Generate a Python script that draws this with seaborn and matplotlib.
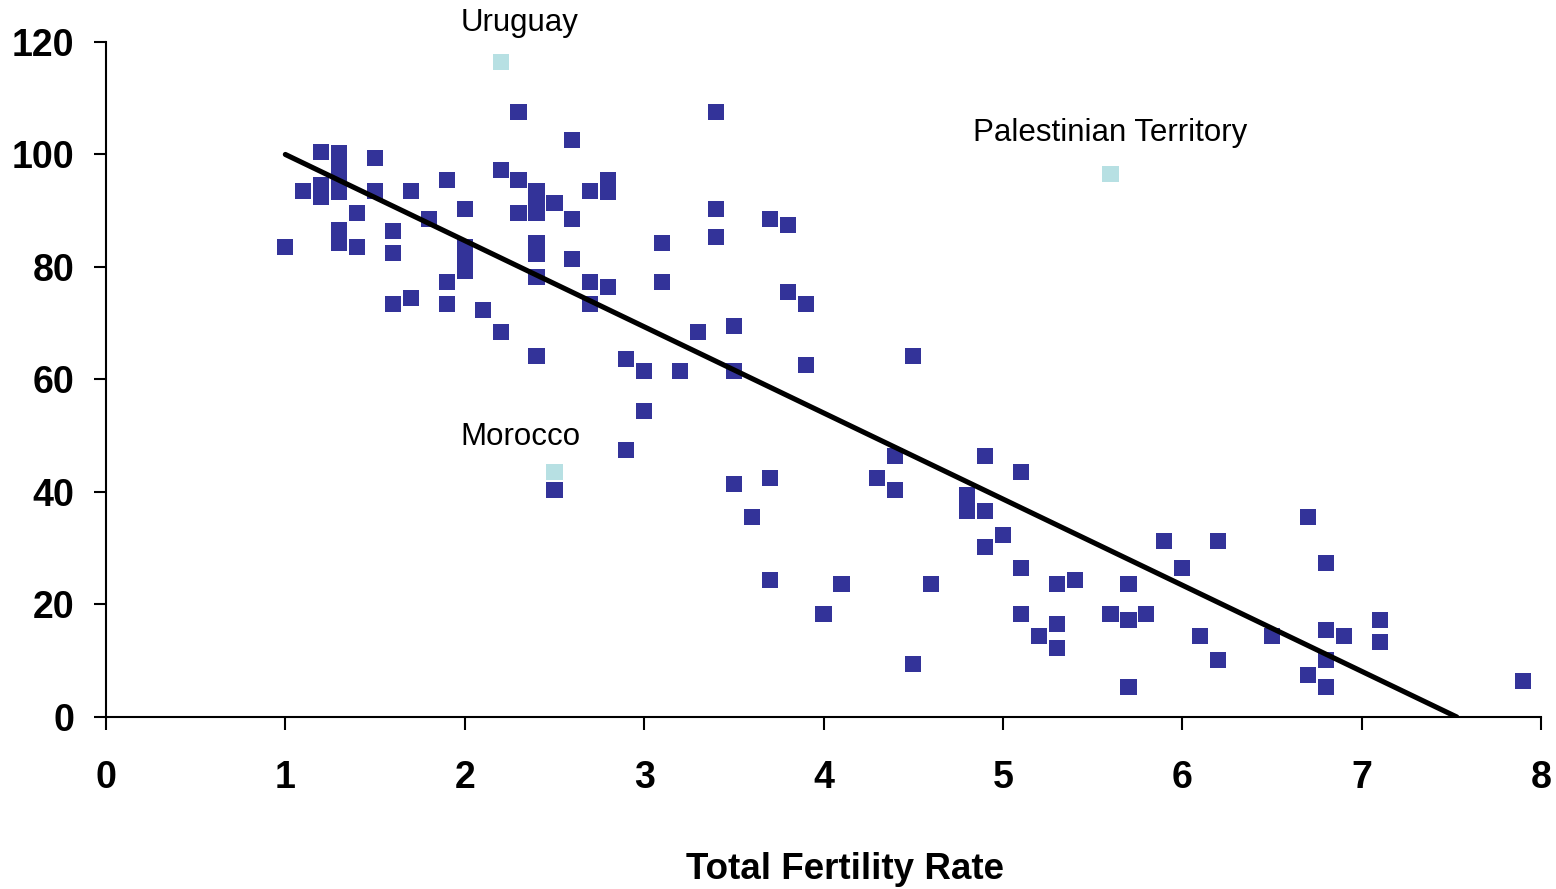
import numpy as np
import pandas as pd
import matplotlib
matplotlib.use("Agg")
import matplotlib.pyplot as plt
import seaborn as sns

# 数据准备 (fertility rate vs. value)
fertility = [1.0, 1.1, 1.2, 1.2, 1.2, 1.3, 1.3, 1.3, 1.3, 1.3, 1.3,
             1.4, 1.4, 1.5, 1.5, 1.6, 1.6, 1.6, 1.7, 1.7, 1.8,
             1.9, 1.9, 1.9, 2.0, 2.0, 2.0, 2.0, 2.1, 2.2, 2.2,
             2.3, 2.3, 2.3, 2.4, 2.4, 2.4, 2.4, 2.4, 2.4, 2.4,
             2.5, 2.5, 2.6, 2.6, 2.6, 2.7, 2.7, 2.7, 2.8, 2.8, 2.8,
             2.9, 2.9, 3.0, 3.0, 3.1, 3.1, 3.2, 3.3, 3.4, 3.4, 3.4,
             3.5, 3.5, 3.5, 3.6, 3.7, 3.7, 3.7, 3.8, 3.8, 3.9, 3.9,
             4.0, 4.1, 4.3, 4.4, 4.4, 4.5, 4.5, 4.6, 4.8, 4.8,
             4.9, 4.9, 4.9, 5.0, 5.1, 5.1, 5.1, 5.2, 5.3, 5.3, 5.3,
             5.4, 5.6, 5.7, 5.7, 5.7, 5.8, 5.9, 6.0, 6.1, 6.2, 6.2,
             6.5, 6.7, 6.7, 6.8, 6.8, 6.8, 6.8, 6.9, 7.1, 7.1, 7.9]
value = [83.6, 93.5, 100.4, 94.6, 92.4, 100.3, 98.0, 95.5, 93.3, 86.6, 84.3,
         89.6, 83.6, 99.4, 93.5, 86.4, 82.5, 73.4, 93.5, 74.5, 88.5,
         95.5, 77.3, 73.4, 90.3, 83.6, 81.4, 79.3, 72.4, 97.2, 68.4,
         107.6, 95.5, 89.6, 93.5, 92.0, 89.6, 84.3, 82.3, 78.2, 64.2,
         91.4, 40.4, 102.6, 88.5, 81.4, 93.5, 77.3, 73.4, 95.5, 93.3, 76.4,
         63.6, 47.5, 61.5, 54.4, 84.3, 77.3, 61.5, 68.4, 107.6, 90.3, 85.3,
         69.5, 61.5, 41.4, 35.6, 88.5, 42.5, 24.4, 87.5, 75.6, 73.4, 62.6,
         18.3, 23.6, 42.5, 46.4, 40.4, 64.2, 9.4, 23.6, 39.5, 36.6,
         46.4, 36.6, 30.2, 32.4, 43.6, 26.5, 18.3, 14.4, 23.6, 16.5, 12.3,
         24.4, 18.3, 23.6, 17.2, 5.3, 18.3, 31.3, 26.5, 14.4, 31.3, 10.1,
         14.4, 35.6, 7.5, 27.4, 15.5, 10.1, 5.3, 14.4, 17.2, 13.3, 6.4]

# highlighted countries
hl_names = ["Uruguay", "Palestinian Territory", "Morocco"]
hl_fertility = [2.2, 5.6, 2.5]
hl_value = [116.5, 96.5, 43.6]

# trend line as drawn in the chart (start / end)
trend_x = [1.0, 7.53]
trend_y = [100.0, 0.0]

df = pd.DataFrame({"fertility": fertility + hl_fertility,
                   "value": value + hl_value,
                   "group": ["other"] * len(fertility) + ["highlight"] * len(hl_names)})
trend = pd.DataFrame({"x": trend_x, "y": trend_y})

sns.set_style("white")
plt.rcParams["font.family"] = ["Liberation Sans", "DejaVu Sans"]
plt.rcParams["text.color"] = "black"

fig = plt.figure(figsize=(15.56, 8.89), dpi=100)
ax = fig.add_axes([0.0681, 0.1935, 0.9223, 0.7593])

sns.scatterplot(data=df, x="fertility", y="value", hue="group",
                palette={"other": "#333399", "highlight": "#B7E0E3"},
                marker="s", s=135, linewidth=0, legend=False, ax=ax, zorder=3)

sns.lineplot(data=trend, x="x", y="y", color="black", linewidth=3.7, ax=ax, zorder=4)

offsets = [(14, 28), (0, 29.5), (-24.5, 25)]
for name, fx, fy, off in zip(hl_names, hl_fertility, hl_value, offsets):
    ax.annotate(name, (fx, fy), xytext=off, textcoords="offset points",
                ha="center", va="center", fontsize=22.5, color="black")

ax.set_xlim(0, 8)
ax.set_ylim(0, 120)
ax.set_xticks(range(0, 9))
ax.set_yticks(range(0, 121, 20))
sns.despine(ax=ax)
for sp in ["left", "bottom"]:
    ax.spines[sp].set_color("black")
    ax.spines[sp].set_linewidth(1.5)
ax.tick_params(axis="both", direction="out", length=9, width=1.5, color="black",
               labelcolor="black", labelsize=27, bottom=True, left=True)
ax.tick_params(axis="x", pad=22)
ax.tick_params(axis="y", pad=14)
for lab in ax.get_xticklabels() + ax.get_yticklabels():
    lab.set_fontweight("bold")

ax.set_ylabel("")
ax.set_xlabel("Total Fertility Rate", fontsize=26.5, fontweight="bold", color="black")
ax.xaxis.set_label_coords(0.515, -0.2)
ax.xaxis.label.set_verticalalignment("top")

fig.savefig("out.png", dpi=100)
